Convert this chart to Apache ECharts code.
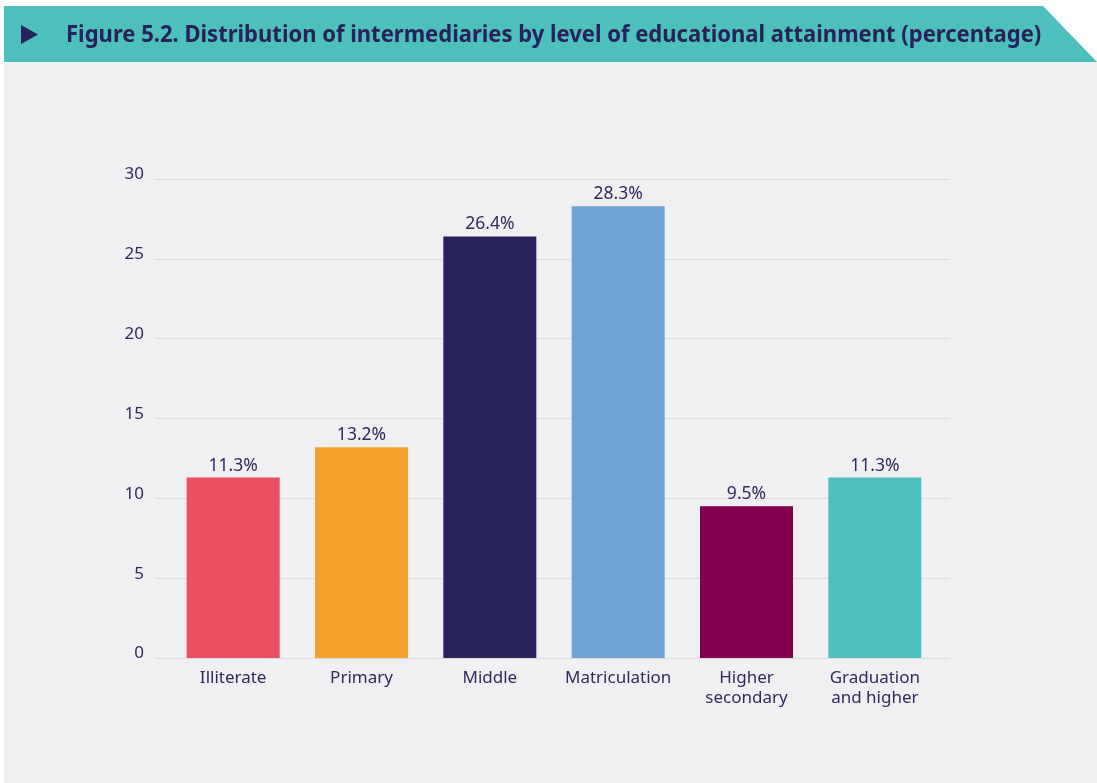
<!DOCTYPE html>
<html>
<head>
<meta charset="utf-8">
<style>
  html, body { margin: 0; padding: 0; background: #ffffff; }
  #chart { width: 1097px; height: 783px; }
</style>
<script src="https://cdn.jsdelivr.net/npm/echarts@6/dist/echarts.min.js"></script>
</head>
<body>
<div id="chart"></div>
<script>
// Educational attainment of intermediaries (percentage)
const categories = ['Illiterate', 'Primary', 'Middle', 'Matriculation', 'Higher\nsecondary', 'Graduation\nand higher'];
const shares = [11.3, 13.2, 26.4, 28.3, 9.5, 11.3];
const barColors = ['#e84f61', '#f7a12d', '#272259', '#6fa2d5', '#830051', '#4dbfbd'];
const yTicks = [0, 5, 10, 15, 20, 25, 30];
const titleText = 'Figure 5.2. Distribution of intermediaries by level of educational attainment (percentage)';

const ink = '#2e2b5c';
const gridTop = 179, gridBottom = 783 - 658;
const yMin = yTicks[0], yMax = yTicks[yTicks.length - 1], yStep = yTicks[1] - yTicks[0];

const chart = echarts.init(document.getElementById('chart'), null, { renderer: 'canvas' });

chart.setOption({
  backgroundColor: '#ffffff',
  animation: false,
  graphic: [
    // panel background
    { type: 'rect', shape: { x: 4, y: 62, width: 1093, height: 721 }, style: { fill: '#f0f0f2' }, z: -10 },
    // header band with slanted right edge
    { type: 'polygon', shape: { points: [[4, 6], [1043, 6], [1097, 62], [4, 62]] }, style: { fill: '#4dbfbd' }, z: -9 },
    // arrow marker
    { type: 'polygon', shape: { points: [[21, 25], [38, 34.5], [21, 44]] }, style: { fill: '#272259' } },
    {
      type: 'text', x: 66, y: 35, scaleX: 0.917,
      style: {
        text: titleText, fill: '#272259',
        font: 'bold 24px "Noto Sans"', textVerticalAlign: 'middle', textBaseline: 'middle'
      }
    }
  ],
  grid: [
    { left: 155, right: 1097 - 950, top: gridTop, bottom: gridBottom },
    { left: 169, right: 1097 - 939, top: gridTop, bottom: gridBottom }
  ],
  xAxis: [
    { gridIndex: 0, type: 'category', data: categories, show: false },
    {
      gridIndex: 1, type: 'category', data: categories,
      axisLine: { show: false }, axisTick: { show: false },
      axisLabel: {
        interval: 0, hideOverlap: false,
        color: ink, fontSize: 17, fontFamily: 'Noto Sans', lineHeight: 20, margin: 10
      }
    }
  ],
  yAxis: [
    {
      gridIndex: 0, type: 'value', min: yMin, max: yMax, interval: yStep,
      axisLine: { show: false }, axisTick: { show: false },
      axisLabel: {
        color: ink, fontSize: 17, fontFamily: 'Noto Sans', margin: 11,
        verticalAlign: 'bottom', lineHeight: 9
      },
      splitLine: { lineStyle: { color: '#dcdce0', width: 1 } }
    },
    {
      gridIndex: 1, type: 'value', min: yMin, max: yMax, interval: yStep,
      show: false, splitLine: { show: false }
    }
  ],
  series: [{
    type: 'bar', xAxisIndex: 1, yAxisIndex: 1,
    barWidth: 93,
    data: shares.map((v, i) => ({ value: v, itemStyle: { color: barColors[i] } })),
    label: {
      show: true, position: 'top', distance: 3,
      color: ink, fontSize: 17.5, fontFamily: 'Noto Sans',
      formatter: p => p.value.toFixed(1) + '%'
    }
  }]
});
</script>
</body>
</html>
